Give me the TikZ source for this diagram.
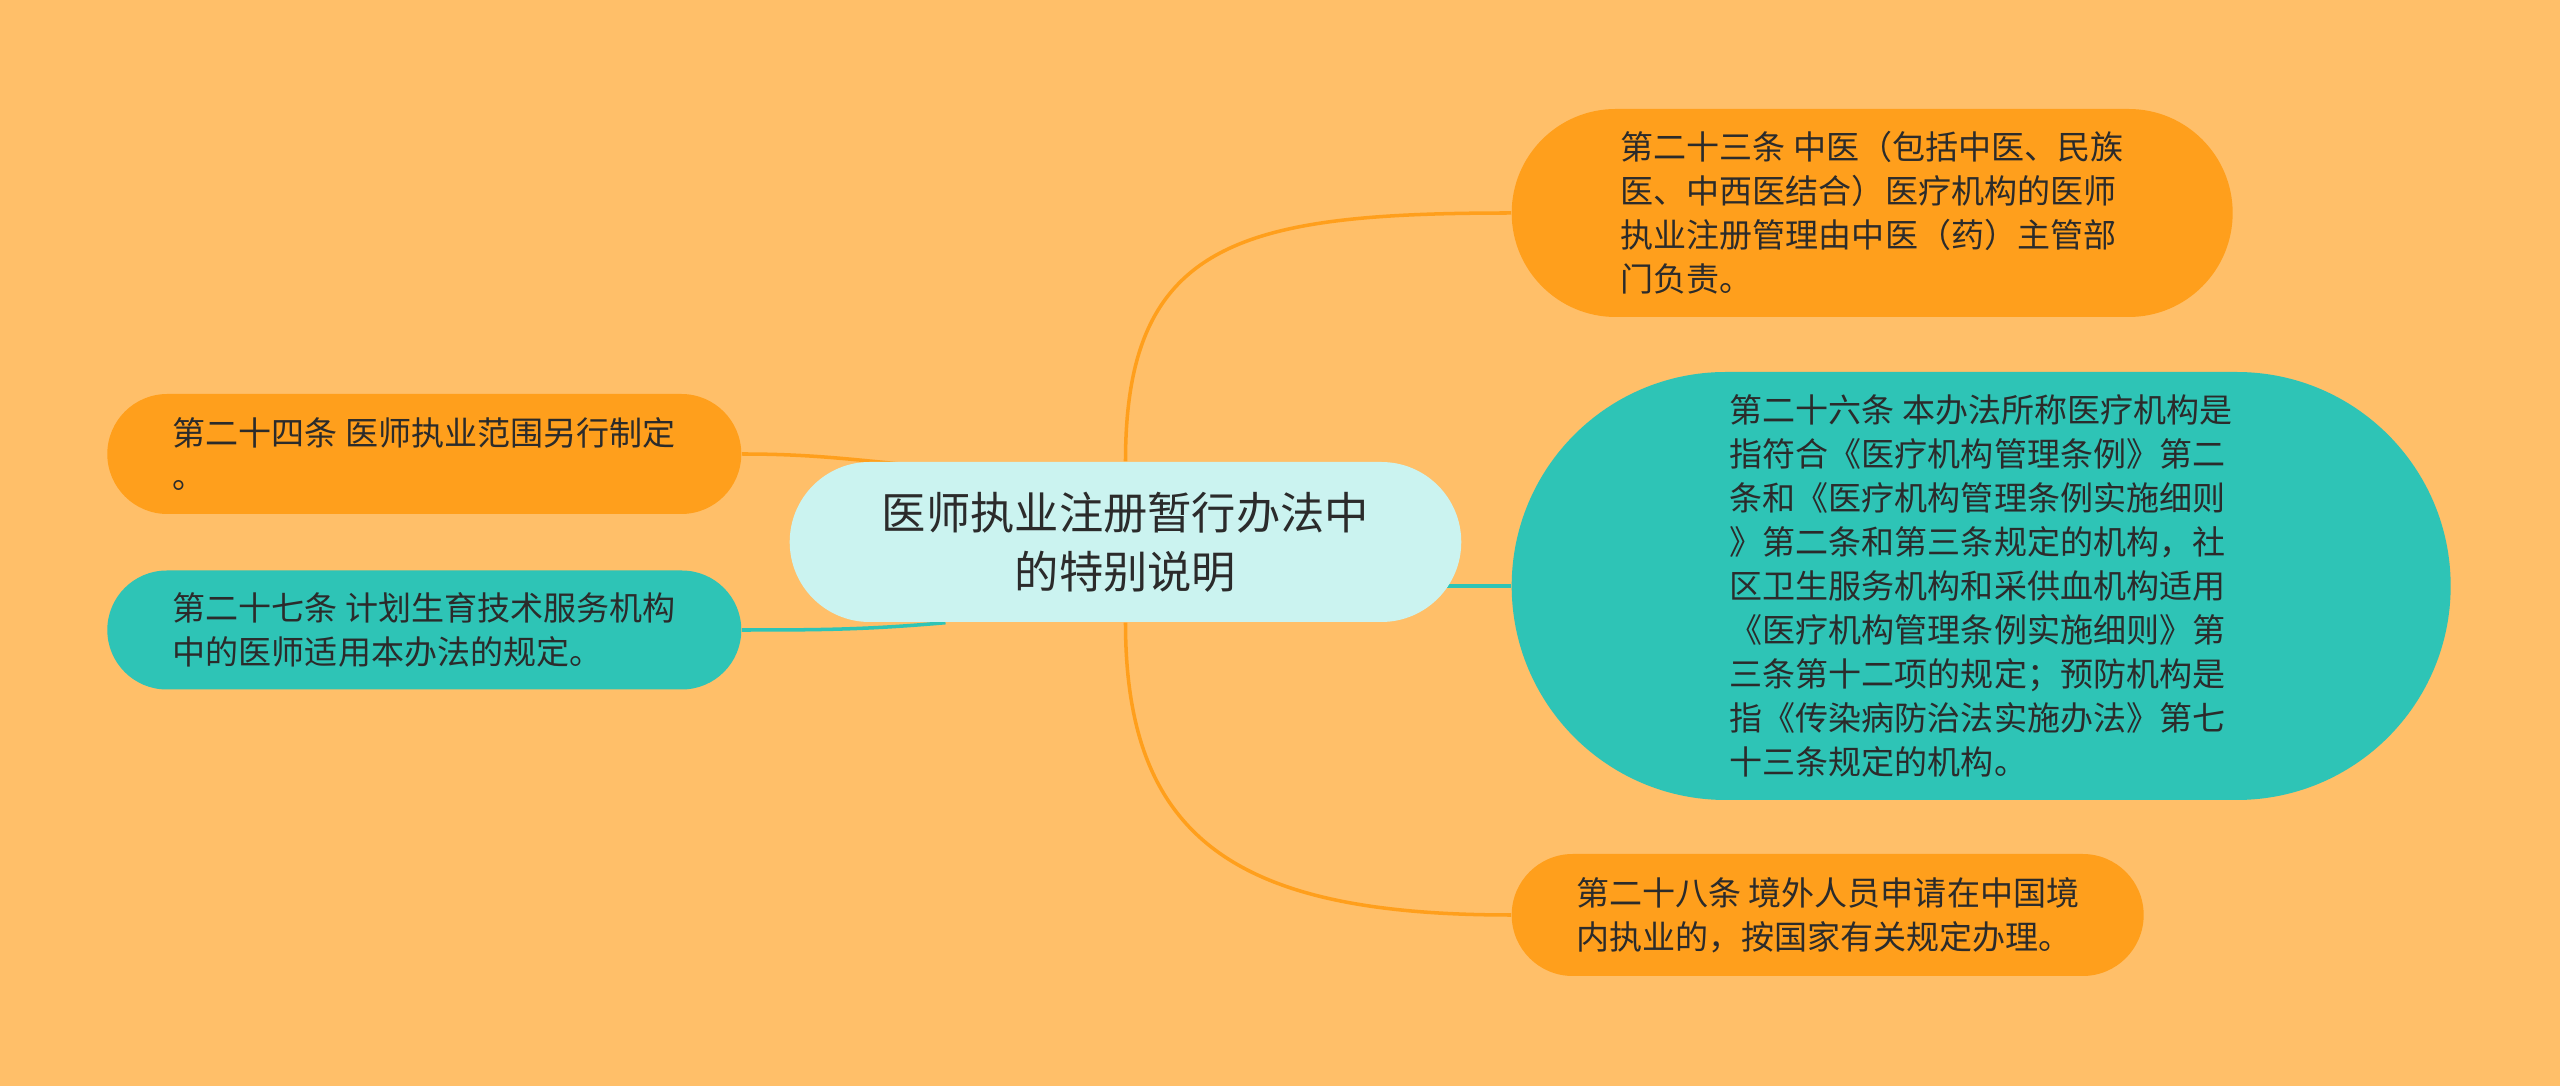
\documentclass[tikz,border=0pt]{standalone}
\usepackage{fontspec}
\setmainfont{Noto Sans CJK SC}
\usetikzlibrary{positioning, shapes.misc}
\pgfdeclarelayer{paper}
\pgfdeclarelayer{links}
\pgfsetlayers{paper,links,main}
\definecolor{paper-bg}{HTML}{FFBF69}
\definecolor{leaf-orange}{HTML}{FF9F1C}
\definecolor{leaf-teal}{HTML}{2EC4B6}
\definecolor{root-fill}{HTML}{CBF3F0}
\definecolor{leaf-text}{HTML}{2B2B2B}

\begin{document}
\begin{tikzpicture}
    \newlength\hgap
    \newlength\lgap
    \setlength\hgap{.49cm}
    \setlength\lgap{.47cm}
    \tikzset{
        leaf/.style={rounded rectangle, align=left, text=leaf-text, inner sep=0pt,
            font=\fontsize{9.4pt}{12.5pt}\selectfont},
        orangeleaf/.style={leaf, fill=leaf-orange},
        tealleaf/.style={leaf, fill=leaf-teal},
        link/.style={line width=1pt},
    }

    % ROOT
    \node [rounded rectangle, fill=root-fill, text=leaf-text, align=center,
        minimum width=6.95cm, minimum height=1.6cm,
        font=\fontsize{12.6pt}{16.8pt}\selectfont] (root)
        {医师执业注册暂行办法中\\的特别说明};

    % RIGHT BRANCHES
    \node [orangeleaf, minimum width=7.21cm, minimum height=2.08cm,
        right = \hgap of root.east, yshift=3.29cm] (art23) {%
        第二十三条 中医（包括中医、民族\\
        医、中西医结合）医疗机构的医师\\
        执业注册管理由中医（药）主管部\\
        门负责。};
    \node [tealleaf, minimum width=9.39cm, minimum height=4.28cm,
        right = \hgap of root.east, yshift=-.44cm] (art26) {%
        第二十六条 本办法所称医疗机构是\\
        指符合《医疗机构管理条例》第二\\
        条和《医疗机构管理条例实施细则\\
        》第二条和第三条规定的机构，社\\
        区卫生服务机构和采供血机构适用\\
        《医疗机构管理条例实施细则》第\\
        三条第十二项的规定；预防机构是\\
        指《传染病防治法实施办法》第七\\
        十三条规定的机构。};
    \node [orangeleaf, minimum width=6.32cm, minimum height=1.22cm,
        right = \hgap of root.east, yshift=-3.73cm] (art28) {%
        第二十八条 境外人员申请在中国境\\
        内执业的，按国家有关规定办理。};

    % LEFT BRANCHES
    \node [orangeleaf, minimum width=6.34cm, minimum height=1.2cm,
        left = \lgap of root.west, yshift=.88cm] (art24) {%
        第二十四条 医师执业范围另行制定\\
        。};
    \node [tealleaf, minimum width=6.34cm, minimum height=1.19cm,
        left = \lgap of root.west, yshift=-.88cm] (art27) {%
        第二十七条 计划生育技术服务机构\\
        中的医师适用本办法的规定。};

    % Links behind the nodes
    \begin{pgfonlayer}{links}
        \draw[link, leaf-orange] (root.north) .. controls +(0,2.2) and +(-2.7,0) .. (art23.west);
        \draw[link, leaf-orange] (root.south) .. controls +(0,-2.2) and +(-2.7,0) .. (art28.west);
        \draw[link, leaf-teal] (root.center |- art26.west) -- (art26.west);
        \draw[link, leaf-orange] (art24.east) to[out=0, in=175]
            ([xshift=-1.9cm, yshift=-.06cm]root.north);
        \draw[link, leaf-teal] (art27.east) to[out=0, in=185]
            ([xshift=-1.8cm]root.south);
    \end{pgfonlayer}

    \begin{pgfonlayer}{paper}
        \fill[paper-bg] (-11.255,5.42) rectangle (14.345,-5.44);
    \end{pgfonlayer}
\end{tikzpicture}
\end{document}
